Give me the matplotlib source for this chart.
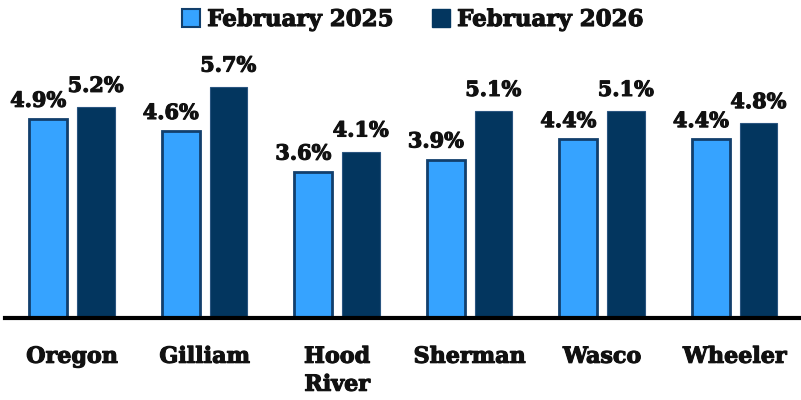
import numpy as np
import matplotlib.pyplot as plt
import matplotlib.patheffects as pe
from matplotlib.patches import Patch


counties = ['Oregon', 'Gilliam', 'Hood\nRiver', 'Sherman', 'Wasco', 'Wheeler']
feb_2025 = [4.9, 4.6, 3.6, 3.9, 4.4, 4.4]
feb_2026 = [5.2, 5.7, 4.1, 5.1, 5.1, 4.8]
series_names = ['February 2025', 'February 2026']

light = '#36a3ff'
dark = '#03365f'
edge = '#123f6c'
font = 'DejaVu Serif'
heavy = [pe.withStroke(linewidth=0.8, foreground='#111111')]


def main():
    fig = plt.figure(figsize=(8.01, 4.0), dpi=100)
    ax = fig.add_axes([0.006, 0.205, 0.994, 0.695])

    x = np.arange(len(counties))
    w = 0.285
    off = 0.18
    b1 = ax.bar(x - off, feb_2025, w, color=light, edgecolor=edge, linewidth=2)
    b2 = ax.bar(x + off, feb_2026, w, color=dark, edgecolor='#2a5580', linewidth=0.8)

    for rect, v in zip(b1, feb_2025):
        ax.annotate(f'{v}%', (rect.get_x() + rect.get_width() / 2, v),
                    xytext=(-7, 6), textcoords='offset points',
                    ha='center', va='bottom', fontsize=15,
                    fontweight='bold', family=font, color='#111111',
                    path_effects=heavy)
    for rect, v in zip(b2, feb_2026):
        ax.annotate(f'{v}%', (rect.get_x() + rect.get_width() / 2, v),
                    xytext=(0, 8), textcoords='offset points',
                    ha='center', va='bottom', fontsize=15,
                    fontweight='bold', family=font, color='#111111',
                    path_effects=heavy)

    ax.set_xlim(-0.507, 5.50)
    ax.set_ylim(0, 6.85)
    ax.set_xticks(x)
    ax.set_xticklabels(counties, fontsize=16, fontweight='bold', family=font,
                       linespacing=1.35, va='top', color='#111111')
    for t in ax.get_xticklabels():
        t.set_path_effects(heavy)
    ax.tick_params(axis='x', length=0, pad=20)
    ax.set_yticks([])
    for s in ['top', 'right', 'left']:
        ax.spines[s].set_visible(False)
    ax.spines['bottom'].set_linewidth(3)

    handles = [Patch(facecolor=light, edgecolor=edge, linewidth=1.5),
               Patch(facecolor=dark, edgecolor=dark)]
    leg = fig.legend(handles, series_names, loc='center', bbox_to_anchor=(0.515, 0.95),
                     ncol=2, frameon=False, handlelength=0.8, handleheight=0.8,
                     handletextpad=0.3, columnspacing=1.7,
                     prop={'family': font, 'weight': 'bold', 'size': 16.5})
    for t in leg.get_texts():
        t.set_color('#111111')
        t.set_path_effects(heavy)

    fig.savefig('out.png', dpi=100)


if __name__ == "__main__":
    main()
